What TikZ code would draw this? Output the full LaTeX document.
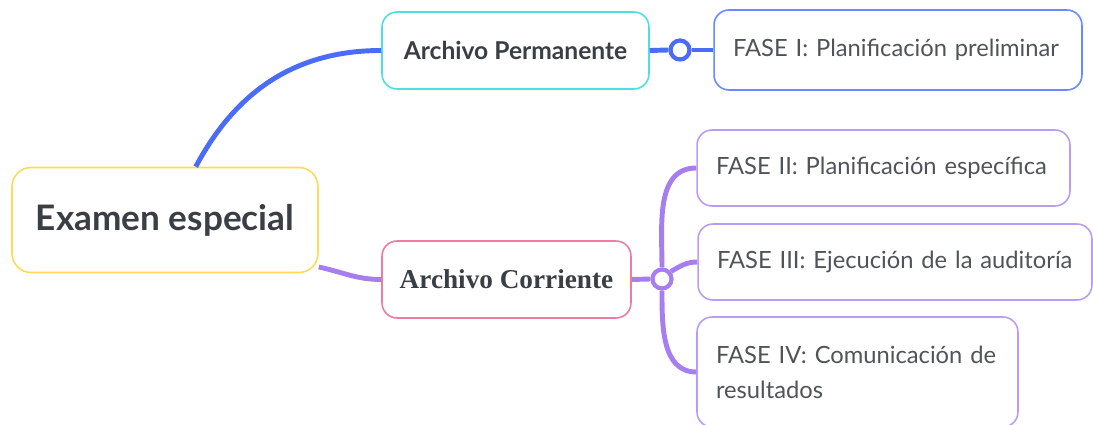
\documentclass[tikz,border=0pt]{standalone}
\usepackage{fontspec}
\setmainfont{Lato}
\newfontfamily\serifbold{Liberation Serif}
\usetikzlibrary{positioning}

\definecolor{txtdark}{HTML}{3A3F45}
\definecolor{txtgray}{HTML}{505459}
\definecolor{bdyellow}{HTML}{FFD95A}
\definecolor{bdcyan}{HTML}{4DE0E0}
\definecolor{bdblue}{HTML}{6A8BFF}
\definecolor{bdpink}{HTML}{F07AA0}
\definecolor{bdpurple}{HTML}{B99DF5}
\definecolor{lnblue}{HTML}{4A6CF8}
\definecolor{lnpurple}{HTML}{A77EF0}

\begin{document}
\begin{tikzpicture}[x=0.02cm, y=-0.02cm,
  root/.style={rectangle, rounded corners=0.38cm, draw=bdyellow, line width=0.9pt, fill=white, minimum width=6.12cm, minimum height=2.1cm, font=\fontsize{20}{24}\selectfont\bfseries, text=txtdark},
  branch/.style={rectangle, rounded corners=0.3cm, line width=0.9pt, fill=white, minimum height=1.54cm, font=\fontsize{14}{17}\selectfont\bfseries, text=txtdark},
  phase/.style={rectangle, rounded corners=0.3cm, line width=0.9pt, fill=white, inner xsep=0.38cm, align=left, font=\fontsize{13.5}{20}\selectfont, text=txtgray},
  knot/.style={circle, line width=2.4pt, fill=white, inner sep=0pt, minimum size=0.38cm},
  bluelink/.style={lnblue, line width=2.8pt},
  purplelink/.style={lnpurple, line width=2.8pt}
]
\useasboundingbox (0,0) rectangle (1093,425);

% --- ROOT AND FIRST LEVEL ---

% Root topic
\node[root] (examen) at (165,220) {Examen especial};

% Archivo Permanente and Archivo Corriente
\node[branch, draw=bdcyan, minimum width=5.34cm] (permanente) at (515.5,50.5) {Archivo Permanente};
\node[branch, draw=bdpink, minimum width=4.98cm, font=\fontsize{15.5}{18}\serifbold\bfseries] (corriente) at (506.5,279.5) {Archivo Corriente};

% --- SECOND LEVEL: FASES ---

\node[phase, draw=bdblue, text width=6.6cm, minimum height=1.6cm] (fase1) at (898,50) {FASE I: Planificación preliminar};
\node[phase, draw=bdpurple, text width=6.7cm, minimum height=1.52cm] (fase2) at (883.5,168) {FASE II: Planificación específica};
\node[phase, draw=bdpurple, text width=7.12cm, minimum height=1.52cm] (fase3) at (895,262) {FASE III: Ejecución de la auditoría};
\node[phase, draw=bdpurple, text width=5.66cm, minimum height=2.2cm] (fase4) at (857.5,372) {FASE IV: Comunicación de\\resultados};

% Join circles
\node[knot, draw=lnblue] (nudo1) at (680,50) {};
\node[knot, draw=lnpurple] (nudo2) at (662,279) {};

% --- CONNECTORS ---

% Root to first level
\draw[bluelink] (examen.60) to[out=62, in=180] (permanente.west);
\draw[purplelink] (examen.-17) to[out=-12, in=180] (corriente.west);

% Archivo Permanente to FASE I
\draw[bluelink] (permanente.east) -- (nudo1.west);
\draw[bluelink] (nudo1.east) -- (fase1.west);

% Archivo Corriente to FASES II-IV
\draw[purplelink] (corriente.east) -- (nudo2.west);
\draw[purplelink] (nudo2.north) to[out=90, in=180] (fase2.west);
\draw[purplelink] (nudo2.40) to[out=30, in=180] (fase3.west);
\draw[purplelink] (nudo2.south) to[out=-90, in=180] (fase4.west);

\end{tikzpicture}
\end{document}
